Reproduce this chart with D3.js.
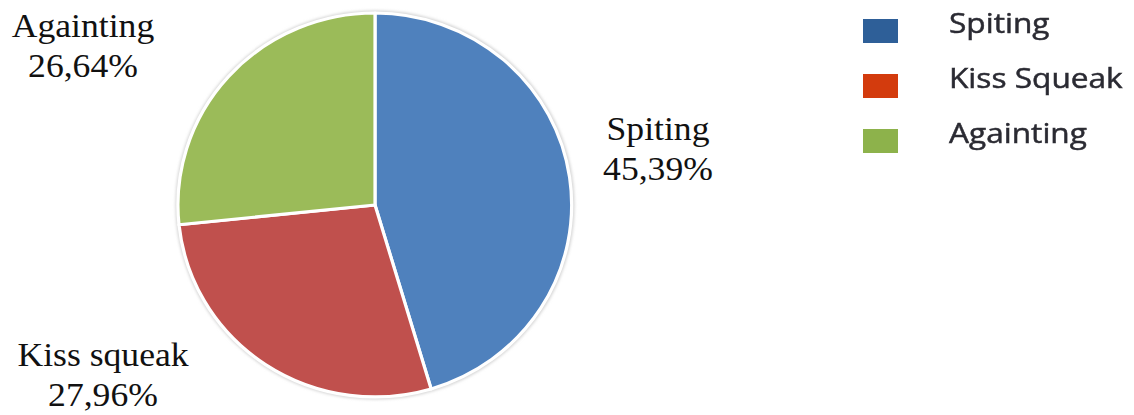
<!DOCTYPE html>
<html>
<head>
<meta charset="utf-8">
<script src="https://cdn.jsdelivr.net/npm/d3@7"></script>
<style>
  body { margin: 0; background: #fff; }
  svg { display: block; }
</style>
</head>
<body>
<svg id="chart" width="1134" height="415"></svg>
<script>
// ====== datos ======
var categorias = ["Spiting", "Kiss squeak", "Againting"];
var leyenda = ["Spiting", "Kiss Squeak", "Againting"];
var porcentajes = [45.39, 27.96, 26.64];
var colores = ["#4f81bd", "#c0504d", "#9bbb59"];
var coloresLeyenda = ["#2e5e98", "#d33a10", "#8db24c"];

var svg = d3.select("#chart");

// ====== torta ======
var cx = 375, cy = 205, rx = 197, ry = 192;

var defs = svg.append("defs");
defs.append("filter").attr("id", "sombra")
  .append("feGaussianBlur").attr("stdDeviation", 1.5);
defs.append("filter").attr("id", "suave")
  .append("feGaussianBlur").attr("stdDeviation", 0.5);

var pie = d3.pie().sort(null).value(function(d) { return d; });
var arcos = pie(porcentajes);
var arc = d3.arc().innerRadius(0).outerRadius(1);

// contorno gris suave
svg.append("ellipse")
  .attr("cx", cx).attr("cy", cy)
  .attr("rx", rx + 2.5).attr("ry", ry + 2.5)
  .attr("fill", "#d4d4d4")
  .attr("filter", "url(#sombra)");

var g = svg.append("g")
  .attr("transform", "translate(" + cx + "," + cy + ") scale(" + rx + "," + ry + ")");

g.selectAll("path.slice")
  .data(arcos)
  .enter().append("path")
    .attr("class", "slice")
    .attr("d", arc)
    .attr("fill", function(d, i) { return colores[i]; })
    .attr("stroke", "#fff")
    .attr("stroke-width", 3.2)
    .attr("vector-effect", "non-scaling-stroke")
    .attr("stroke-linejoin", "round");

// ====== etiquetas ======
// posicion de cada etiqueta (centro del texto, linea base de la primera linea)
var posEtiquetas = [[658, 140], [103, 366], [83, 37]];
var etiquetas = svg.selectAll("g.etq")
  .data(arcos)
  .enter().append("g")
    .attr("class", "etq")
    .attr("transform", function(d, i) {
      return "translate(" + posEtiquetas[i][0] + "," + posEtiquetas[i][1] + ") scale(1.08,1)";
    });

etiquetas.append("text")
  .attr("text-anchor", "middle")
  .style("font-family", "'Liberation Serif', 'Times New Roman', serif")
  .style("font-size", "33px")
  .style("fill", "#111")
  .text(function(d, i) { return categorias[i]; });

etiquetas.append("text")
  .attr("text-anchor", "middle")
  .attr("y", 40)
  .style("font-family", "'Liberation Serif', 'Times New Roman', serif")
  .style("font-size", "33px")
  .style("fill", "#111")
  .text(function(d) { return d3.format(".2f")(d.data).replace(".", ",") + "%"; });

// ====== leyenda ======
var leg = svg.selectAll("g.leg")
  .data(leyenda)
  .enter().append("g")
    .attr("class", "leg")
    .attr("transform", function(d, i) { return "translate(863," + (19 + i * 55) + ")"; });

leg.append("rect")
  .attr("width", 35)
  .attr("height", 24)
  .attr("fill", function(d, i) { return coloresLeyenda[i]; })
  .attr("filter", "url(#suave)");

leg.append("text")
  .attr("transform", "translate(86,14) scale(1.13,1)")
  .style("font-family", "'Open Sans', Lato, sans-serif")
  .style("font-size", "28px")
  .style("fill", "#2b2b33")
  .style("stroke", "#2b2b33")
  .style("stroke-width", "0.5px")
  .attr("filter", "url(#suave)")
  .text(function(d) { return d; });
</script>
</body>
</html>
